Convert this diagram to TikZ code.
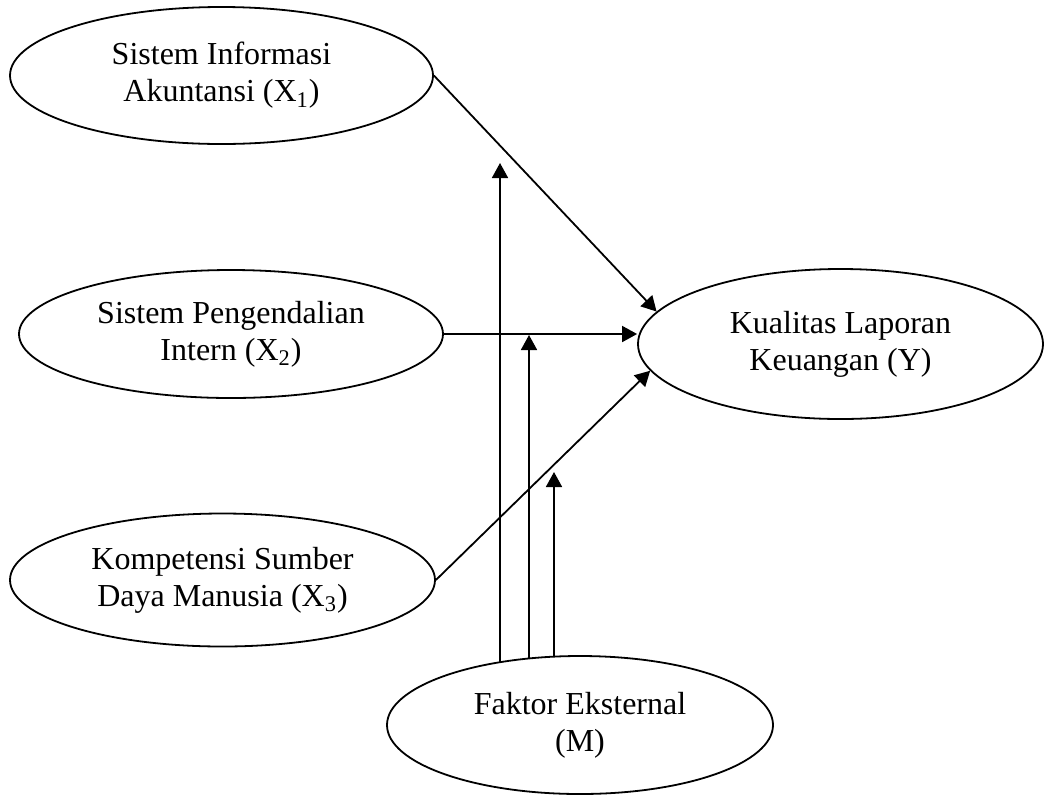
\documentclass[tikz,border=0pt]{standalone}
\usepackage{fontspec}
\setmainfont{Liberation Serif}
\usetikzlibrary{shapes.geometric,arrows.meta}
\begin{document}
\begin{tikzpicture}[
x=0.5pt, y=-0.5pt,
var/.style={ellipse, draw, line width=0.9pt, inner sep=0pt, align=center, font=\fontsize{16}{18.5}\selectfont},
link/.style={-{Triangle[length=7.5pt,width=8pt]}, line width=0.9pt}
]
\useasboundingbox (0,0) rectangle (1044,794);
\node[var, minimum width=211.5pt, minimum height=68.5pt] (X1) at (221.5,75.5) {Sistem Informasi\\Akuntansi (X\textsubscript{1})};
\node[var, minimum width=212pt, minimum height=64pt] (X2) at (231,334) {Sistem Pengendalian\\Intern (X\textsubscript{2})};
\node[var, minimum width=212.5pt, minimum height=66.5pt] (X3) at (222.5,580) {Kompetensi Sumber\\Daya Manusia (X\textsubscript{3})};
\node[var, minimum width=202.5pt, minimum height=75pt] (Y) at (840.5,344) {Kualitas Laporan\\Keuangan (Y)};
\node[var, minimum width=193pt, minimum height=69pt] (M) at (580,725) {Faktor Eksternal\\(M)};
\draw[link] (X1.east) -- (Y.170);
\draw[link] (X2.east) -- (X2.east -| Y.west);
\draw[link] (X3.east) -- (Y.188);
\coordinate (t1) at (500,163);
\coordinate (t2) at (529,335);
\coordinate (t3) at (554,472);
\draw[link] (M.142 -| t1) -- (t1);
\draw[link] (M.127.5 -| t2) -- (t2);
\draw[link] (M.111 -| t3) -- (t3);
\end{tikzpicture}
\end{document}
